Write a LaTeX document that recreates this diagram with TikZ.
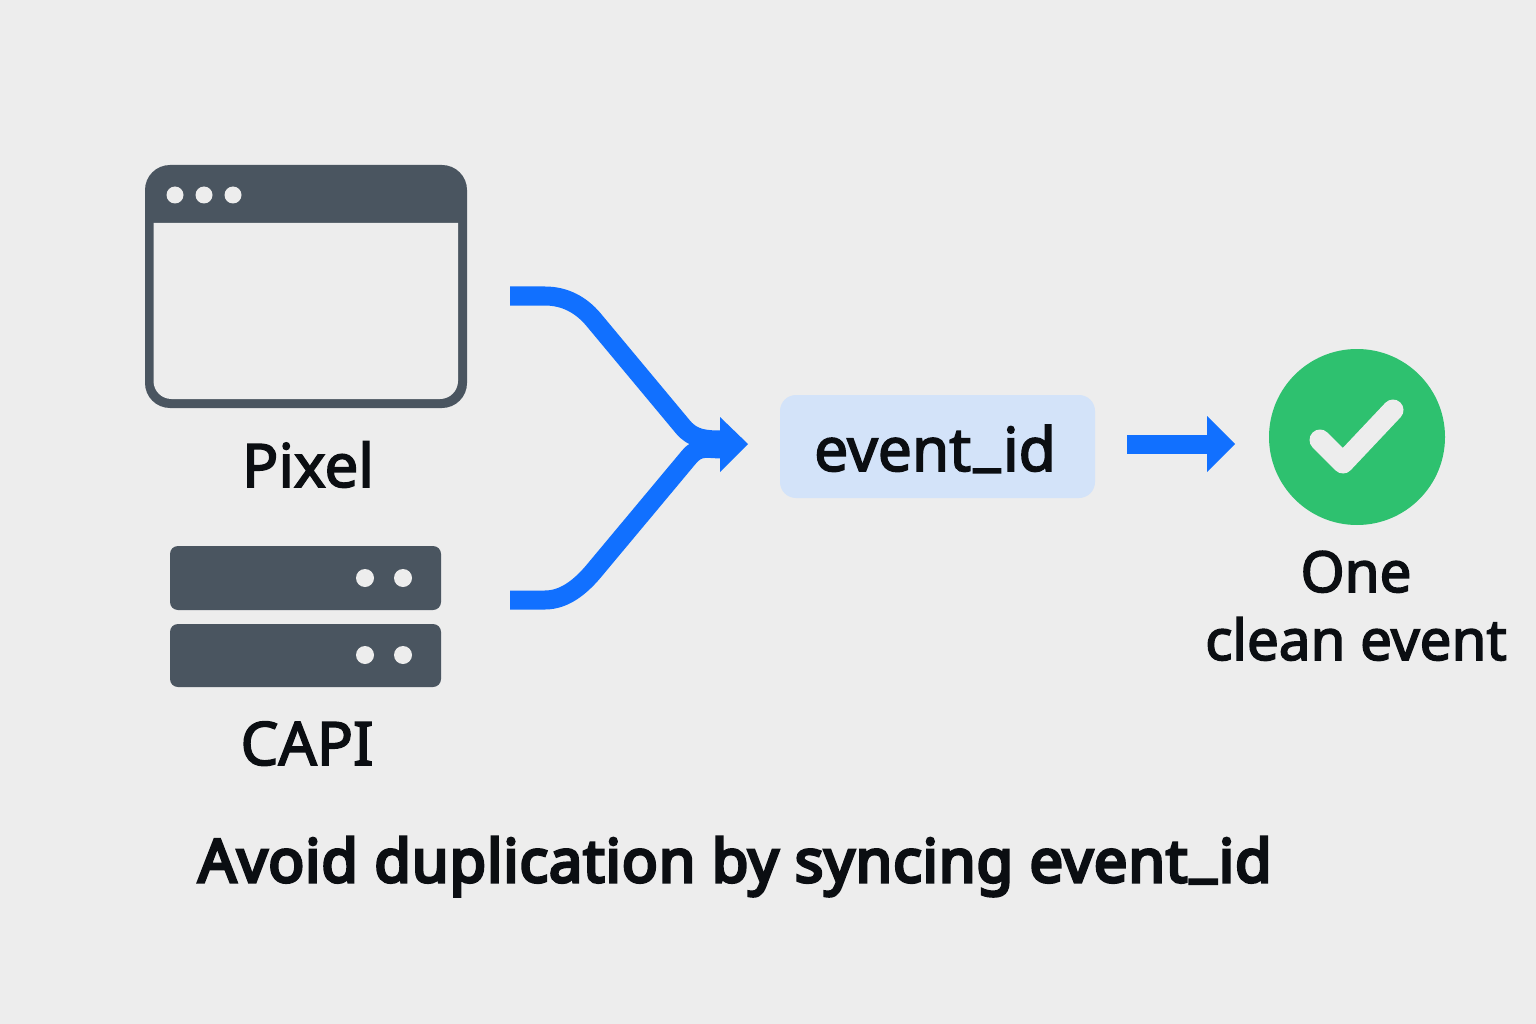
\documentclass[tikz,border=0pt]{standalone}
\usepackage{fontspec}
\setmainfont{Noto Sans}
\newcommand{\strk}[2]{\special{pdf:code 2 Tr #1 w}#2\special{pdf:code 0 Tr}}
\newcommand{\usc}{\kern2.5pt\raisebox{7.5pt}{\_}\kern2.5pt}
\usetikzlibrary{arrows.meta}
\definecolor{bgc}{HTML}{EDEDED}
\definecolor{slatec}{HTML}{4A5560}
\definecolor{bluec}{HTML}{1170FF}
\definecolor{boxc}{HTML}{D3E3F9}
\definecolor{greenc}{HTML}{2EC16F}
\definecolor{inkc}{HTML}{0B0E12}
\tikzset{
  flow/.style={draw=bluec,line width=19pt,line cap=butt},
  head/.style={fill=bluec,draw=none},
  dot/.style={circle,fill=bgc,draw=none,minimum size=#1,inner sep=0pt},
  rack/.style={fill=slatec,draw=none,rounded corners=8pt},
  lab/.style={anchor=base,text=inkc,font=\fontsize{60}{60}\selectfont,inner sep=0pt},
}
\begin{document}
\begin{tikzpicture}[x=1pt,y=-1pt]
\useasboundingbox (0,0) rectangle (1536,1024);
\fill[bgc] (0,0) rectangle (1536,1024);
% window
\fill[slatec,rounded corners=25pt] (145,165) rectangle (467,408);
\fill[bgc] (153.5,223) -- (458,223) -- (458,381) arc[start angle=0,end angle=90,radius=18] -- (171.5,399) arc[start angle=90,end angle=180,radius=18] -- cycle;
\node[dot=17pt] (w1) at (175,195) {};
\node[dot=17pt] (w2) at (204,195) {};
\node[dot=17pt] (w3) at (233,195) {};
\node[lab] (pixel) at (308,487) {\strk{1.6}{Pixel}};
% servers
\fill[rack] (170,546) rectangle (441,610);
\fill[rack] (170,624) rectangle (441,687);
\node[dot=18pt] (s1) at (365,578) {};
\node[dot=18pt] (s2) at (403,578) {};
\node[dot=18pt] (s3) at (365,655) {};
\node[dot=18pt] (s4) at (403,655) {};
\node[lab] (capi) at (307,765) {\strk{1.6}{CAPI}};
% connectors
\coordinate (pixout) at (510,296);
\coordinate (capiout) at (510,600);
\coordinate (mergea) at (722,440);
\coordinate (mergeb) at (722,449);
\coordinate (mergetip) at (748,444);
\draw[flow] (pixout) -- (545,296) .. controls (565,296) and (581,305) .. (593,319) -- (683,427) .. controls (693,439) and (705,440) .. (mergea);
\draw[flow] (capiout) -- (545,600) .. controls (565,600) and (581,586) .. (593,572) -- (689,457) .. controls (699,445) and (708,449) .. (mergeb);
\fill[head] (720,417) -- (mergetip) -- (720,472) -- cycle;
% event box
\node[fill=boxc,rounded corners=16pt,minimum width=315pt,minimum height=103pt,inner sep=0pt] (evbox) at (937.5,446.5) {};
\node[lab,font=\fontsize{60.5}{61}\selectfont] (evtext) at (935,471) {\strk{1.6}{event\usc id}};
% right arrow
\coordinate (arrstart) at (1127,444.5);
\coordinate (arrtip) at (1235,444);
\draw[draw=bluec,line width=19pt] (arrstart) -- (1208,444.5);
\fill[head] (1207,416) -- (arrtip) -- (1207,472) -- cycle;
% check
\node[circle,fill=greenc,minimum size=176pt,inner sep=0pt] (ok) at (1357,437) {};
\draw[bgc,line width=21pt,line cap=round,line join=round] (1320,440) -- (1343,463) -- (1393,410);
\node[lab,font=\fontsize{56.5}{57}\selectfont] (one) at (1356,592) {\strk{1.6}{One}};
\node[lab,font=\fontsize{56.5}{57}\selectfont] (clean) at (1356,660) {\strk{1.6}{clean event}};
% title
\node[lab,font=\fontsize{59.5}{61}\selectfont\addfontfeature{LetterSpace=1.5}] (title) at (735,882) {\strk{3}{Avoid duplication by syncing event\usc id}};
\end{tikzpicture}
\end{document}
